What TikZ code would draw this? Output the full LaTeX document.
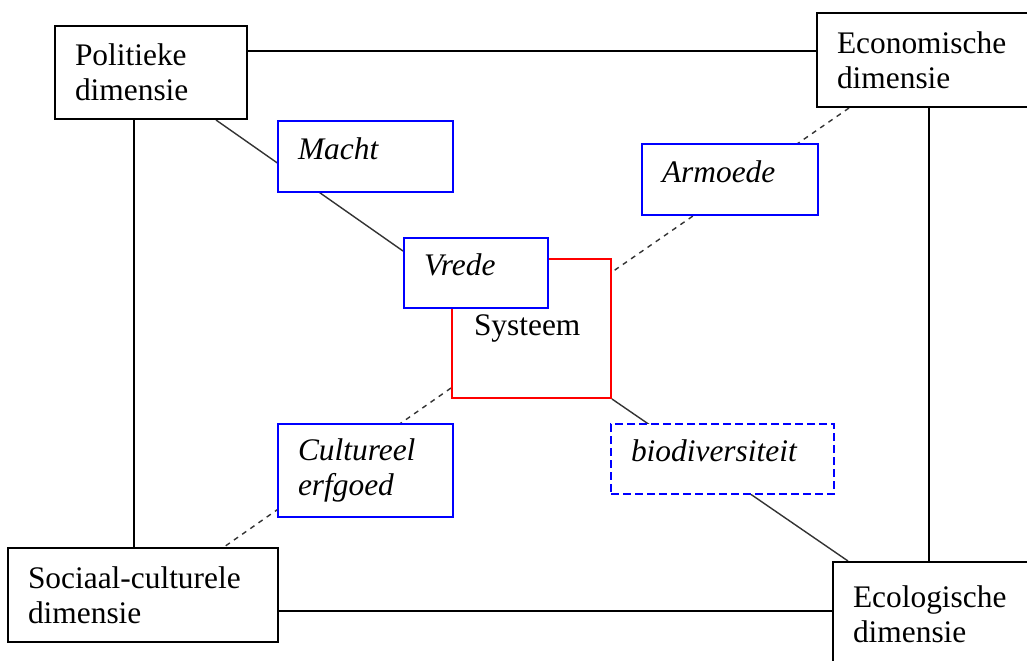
\documentclass[tikz,border=0pt]{standalone}
\usepackage{fontspec}
\setmainfont{Liberation Serif}
\usetikzlibrary{calc,backgrounds}
\begin{document}
\begin{tikzpicture}[x=0.5pt,y=-0.5pt]
                \tikzstyle{every node}+=[font=\fontsize{15.7}{17.5}\selectfont, align=left]
                \tikzstyle{dimbox}=[draw=black, line width=1pt, fill=white, inner xsep=10pt, inner ysep=2pt]
                \tikzstyle{themebox}=[draw=blue, line width=1pt, fill=white, inner xsep=10pt, inner ysep=2pt, font=\fontsize{15.7}{17.5}\selectfont\itshape]
                \tikzstyle{oneline}=[text depth=8pt]
                \tikzstyle{frame}=[black, line width=1pt]
                \tikzstyle{link}=[black!80, line width=0.7pt]
                \tikzstyle{dashlink}=[link, dash pattern=on 2.5pt off 2.5pt]
                \useasboundingbox (0,0) rectangle (1027,660);
                % dimensies
                \node [dimbox, text width=76pt, minimum height=46.5pt] (pol) at (151,72.5) {Politieke\\dimensie};
                \node [dimbox, text width=91.5pt, minimum height=47pt] (eco) at (928.5,60) {Economische\\dimensie};
                \node [dimbox, text width=115pt, minimum height=47pt] (soc) at (143,595) {Sociaal-culturele\\dimensie};
                \node [dimbox, text width=83.5pt, minimum height=52pt] (ecol) at (936.5,614) {Ecologische\\dimensie};
                % systeem
                \node [draw=red, line width=1pt, fill=white, inner xsep=11pt, text width=57.5pt, minimum height=69.5pt] (systeem) at (531.5,328.5) {Systeem};
                % thema's
                \node [themebox, oneline, text width=67.5pt, minimum height=35.5pt] (macht) at (365.5,156.5) {Macht};
                \node [themebox, oneline, text width=68pt, minimum height=35.5pt] (armoede) at (730,179.5) {Armoede};
                \node [themebox, oneline, text width=52pt, minimum height=35pt] (vrede) at (476,273) {Vrede};
                \node [themebox, text width=67.5pt, minimum height=46.5pt] (cultuur) at (365.5,470.5) {Cultureel\\erfgoed};
                \node [themebox, oneline, dash pattern=on 4pt off 2pt, text width=91.5pt, minimum height=35pt] (bio) at (722.5,459) {biodiversiteit};
                \begin{pgfonlayer}{background}
                \coordinate (top) at ($(pol.north east)+(0,26)$);
                \coordinate (left) at ($(pol.south west)+(80,0)$);
                \coordinate (bottom) at ($(soc.south east)+(0,-32)$);
                \draw [frame] (top) -- (top -| eco.west);
                \draw [frame] (left) -- (left |- soc.north);
                \draw [frame] (eco.south) -- (eco.south |- ecol.north);
                \draw [frame] (bottom) -- (bottom -| ecol.west);
                \draw [link] ($(pol.south east)+(-32,0)$) -- ($(vrede.north west)+(0,14)$);
                \draw [dashlink] ($(eco.south west)+(33,0)$) -- ($(systeem.north east)+(0,14)$);
                \draw [dashlink] ($(systeem.south west)+(0,-11)$) -- ($(soc.north east)+(-55,0)$);
                \draw [link] (systeem.south east) -- ($(ecol.north west)+(16,0)$);
                \end{pgfonlayer}
\end{tikzpicture}
\end{document}
